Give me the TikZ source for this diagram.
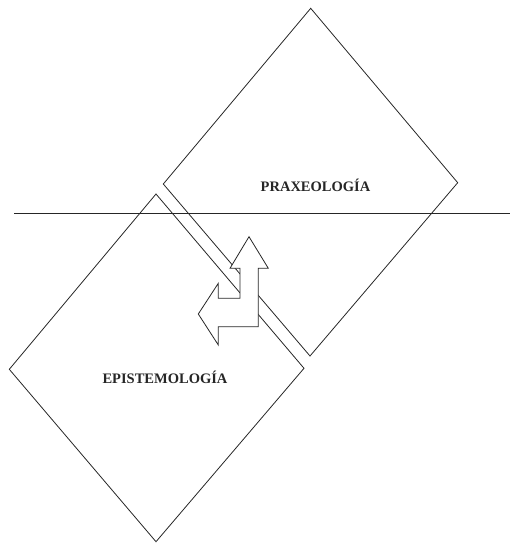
\documentclass[tikz,border=0pt]{standalone}
\usepackage{fontspec}
\setmainfont{Liberation Serif}
\begin{document}
\begin{tikzpicture}[x=1pt,y=-1pt,
  outline/.style={draw=black!85,line width=0.8pt,line join=miter},
  label/.style={font=\bfseries\fontsize{14.5}{16}\selectfont,inner sep=0pt,text=black!85}]
\useasboundingbox (0,0) rectangle (510,543);
% upper rhombus
\draw[outline] (310.7,8.3) -- (457.7,182.7) -- (310,356) -- (163.3,184) -- cycle;
% lower rhombus
\draw[outline] (156,194) -- (304,368.3) -- (156,541.7) -- (9.3,369.3) -- cycle;
% horizontal line
\draw[outline] (14,213.5) -- (510,213.5);
% double arrow
\draw[outline,fill=white] (249,236.7) -- (268.3,268.3) -- (258.3,268.3) -- (258.3,326.7)
  -- (218.3,326.7) -- (218.3,345) -- (198.3,314) -- (218.3,283.3) -- (218.3,298.3)
  -- (240,298.3) -- (240,268.3) -- (230,268.3) -- cycle;
\node[label] (prax) at (315.5,185) {PRAXEOLOGÍA};
\node[label] (epis) at (165,377) {EPISTEMOLOGÍA};
\end{tikzpicture}
\end{document}
